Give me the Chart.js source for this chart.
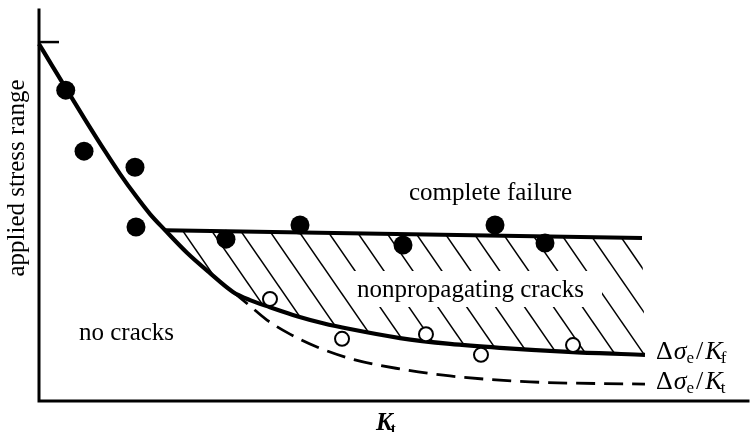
<!DOCTYPE html>
<html><head><meta charset="utf-8">
<script src="https://cdn.jsdelivr.net/npm/chart.js@4/dist/chart.umd.min.js"></script>
<style>html,body{margin:0;padding:0;background:#fff;}#c{display:block;}</style>
</head><body>
<canvas id="c" width="750" height="432"></canvas>
<script>
// ---- data (arbitrary units: x = K_t, y = applied stress range) ----
const fatigueLimit = 9.18;
const curveX = [0.000, 0.197, 0.395, 0.663, 0.931, 1.142, 1.368, 1.566, 1.777, 2.087, 2.412, 2.736];
const curveY = [9.13, 8.54, 7.95, 7.16, 6.39, 5.81, 5.24, 4.78, 4.37, 3.79, 3.27, 2.79];
const kfX = [2.976, 3.258, 3.639, 4.006, 4.386, 5.092, 5.797, 6.502, 7.532, 8.547];
const kfY = [2.58, 2.40, 2.17, 1.99, 1.84, 1.61, 1.46, 1.36, 1.25, 1.18];
const ktX = [2.736, 2.976, 3.216, 3.540, 3.921, 4.457, 5.092, 5.797, 6.925, 8.547];
const ktY = [2.79, 2.43, 2.07, 1.71, 1.38, 1.05, 0.82, 0.64, 0.49, 0.43];
const failLineX = [1.777, 8.505];
const failLineY = [4.37, 4.17];
const failedX = [0.377, 0.635, 1.354, 1.368, 2.637, 3.681, 5.134, 6.432, 7.137];
const failedY = [7.95, 6.39, 5.98, 4.45, 4.14, 4.50, 3.99, 4.50, 4.04];
const crackedX = [3.258, 4.274, 5.458, 6.234, 7.532];
const crackedY = [2.61, 1.59, 1.71, 1.18, 1.43];

// ---- build library structures ----
const zip = (xs, ys) => xs.map((x, i) => ({x: x, y: ys[i]}));
const kfCurve = zip(curveX.concat(kfX), curveY.concat(kfY));
const ktCurve = zip(ktX, ktY);
const failLine = zip(failLineX, failLineY);
const hatchPoly = failLine.concat(kfCurve.filter(p => p.x >= failLineX[0]).reverse());

const SERIF = '"Liberation Serif", "DejaVu Serif", serif';

const hatchPlugin = {
  id: 'hatch',
  beforeDatasetsDraw(chart) {
    const ctx = chart.ctx;
    const meta = chart.getDatasetMeta(5);
    const pts = meta.data;
    if (!pts.length) return;
    ctx.save();
    ctx.beginPath();
    ctx.moveTo(pts[0].x, pts[0].y);
    for (let i = 1; i < pts.length; i++) ctx.lineTo(pts[i].x, pts[i].y);
    ctx.closePath();
    ctx.clip();
    ctx.strokeStyle = '#000';
    ctx.lineWidth = 1.5;
    const slope = 1.45, step = 28.93, x0 = pts[0].x + 18, yRef = pts[0].y + 1;
    for (let k = -6; k < 30; k++) {
      const xu = x0 + k * step;
      ctx.beginPath();
      ctx.moveTo(xu - (yRef - 150) / slope, 150);
      ctx.lineTo(xu + (430 - yRef) / slope, 430);
      ctx.stroke();
    }
    ctx.restore();
    // gap in hatching behind label
    ctx.save();
    ctx.fillStyle = '#fff';
    ctx.fillRect(352, 271, 250, 36);
    ctx.restore();
  }
};

const decorPlugin = {
  id: 'decor',
  afterDraw(chart) {
    const ctx = chart.ctx;
    const a = chart.chartArea;
    const ys = chart.scales.y;
    ctx.save();
    ctx.strokeStyle = '#000';
    ctx.lineWidth = 3;
    ctx.lineCap = 'square';
    ctx.beginPath();
    ctx.moveTo(a.left, a.top);
    ctx.lineTo(a.left, a.bottom);
    ctx.lineTo(a.right, a.bottom);
    ctx.stroke();
    // fatigue limit tick
    const ty = ys.getPixelForValue(fatigueLimit);
    ctx.lineWidth = 2.5;
    ctx.lineCap = 'butt';
    ctx.beginPath();
    ctx.moveTo(a.left, ty);
    ctx.lineTo(a.left + 20, ty);
    ctx.stroke();

    ctx.fillStyle = '#000';
    ctx.textBaseline = 'alphabetic';
    ctx.textAlign = 'left';
    ctx.font = '25px ' + SERIF;
    ctx.fillText('complete failure', 409, 200);
    ctx.fillText('nonpropagating cracks', 357, 297);
    ctx.fillText('no cracks', 79, 340);

    // y axis title
    ctx.save();
    ctx.translate(17, 178);
    ctx.rotate(-Math.PI / 2);
    ctx.textAlign = 'center';
    ctx.textBaseline = 'middle';
    ctx.font = '25px ' + SERIF;
    ctx.fillText('applied stress range', 0, 0);
    ctx.restore();

    // x axis title K_t
    ctx.font = 'italic bold 25px ' + SERIF;
    ctx.fillText('K', 376, 430);
    let w = ctx.measureText('K').width;
    ctx.font = 'bold 15px ' + SERIF;
    ctx.fillText('t', 376 + w - 2, 433);

    // curve labels
    function sym(x, b, sub) {
      ctx.font = '26px ' + SERIF;
      ctx.fillText('\u0394', x, b); x += ctx.measureText('\u0394').width + 1;
      ctx.font = 'italic 26px ' + SERIF;
      ctx.fillText('\u03C3', x, b); x += ctx.measureText('\u03C3').width;
      ctx.font = '17px ' + SERIF;
      ctx.fillText('e', x, b + 4); x += ctx.measureText('e').width + 2;
      ctx.font = '26px ' + SERIF;
      ctx.fillText('/', x, b); x += ctx.measureText('/').width + 2;
      ctx.font = 'italic 26px ' + SERIF;
      ctx.fillText('K', x, b); x += ctx.measureText('K').width - 2;
      ctx.font = '17px ' + SERIF;
      ctx.fillText(sub, x, b + 4);
    }
    sym(656, 359, 'f');
    sym(656, 389, 't');
    ctx.restore();
  }
};

new Chart(document.getElementById('c'), {
  type: 'line',
  data: {
    datasets: [
      {label: 'complete failure', data: zip(failedX, failedY), showLine: false,
       pointRadius: 9.5, pointBackgroundColor: '#000', pointBorderWidth: 0, pointBorderColor: '#000'},
      {label: 'nonpropagating cracks', data: zip(crackedX, crackedY), showLine: false,
       pointRadius: 7, pointBackgroundColor: '#fff', pointBorderColor: '#000', pointBorderWidth: 2},
      {label: 'failure limit', data: failLine, borderColor: '#000', borderWidth: 4,
       pointRadius: 0, fill: false},
      {label: '\u0394\u03C3e/Kf', data: kfCurve, borderColor: '#000', borderWidth: 4.2,
       pointRadius: 0, fill: false, cubicInterpolationMode: 'monotone'},
      {label: '\u0394\u03C3e/Kt', data: ktCurve, borderColor: '#000', borderWidth: 2.8,
       borderDash: [19, 9], pointRadius: 0, fill: false, cubicInterpolationMode: 'monotone'},
      {label: 'hatch', data: hatchPoly, showLine: false, pointRadius: 0, fill: false}
    ]
  },
  options: {
    responsive: false,
    animation: false,
    devicePixelRatio: 1,
    layout: {autoPadding: false, padding: {left: 39, top: 10, right: 2, bottom: 31}},
    scales: {
      x: {type: 'linear', min: 0, max: 10, display: false},
      y: {type: 'linear', min: 0, max: 10, display: false}
    },
    plugins: {legend: {display: false}, tooltip: {enabled: false}},
    clip: false
  },
  plugins: [hatchPlugin, decorPlugin]
});
</script>
</body></html>
